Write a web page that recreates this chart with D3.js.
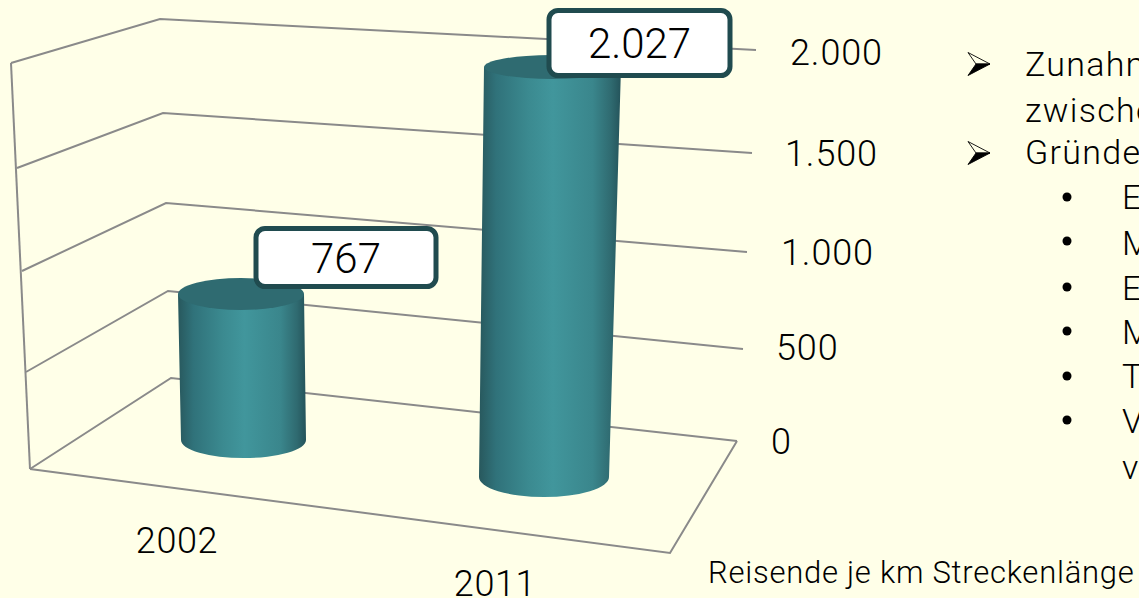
<!DOCTYPE html>
<html><head><meta charset="utf-8">
<script src="https://cdn.jsdelivr.net/npm/d3@7"></script>
<style>html,body{margin:0;padding:0;background:#FFFFE8;overflow:hidden}svg{display:block}text{font-family:Roboto,sans-serif;font-weight:300;fill:#000}</style>
</head><body><svg id="c" width="1139" height="598"></svg>
<script>
const categories = ["2002", "2011"];
const values = [767, 2027];
const valueTicks = [0, 500, 1000, 1500, 2000];
const captionText = "Reisende je km Streckenlänge";
const mainLines = ["Zunahme", "zwischen", "Gründe"];
const mainArrows = [true, false, true];
const subLines = ["E", "M", "E", "M", "T", "V", "v"];
const subDots = [true, true, true, true, true, true, false];

const W = 1139, H = 598;
const svg = d3.select("#c");
const de = d3.formatLocale({decimal: ",", thousands: ".", grouping: [3], currency: ["", "€"]});
const fmt = de.format(",d");

// perspective box: each wall edge maps value -> position
const piece = r => d3.scaleLinear().domain(valueTicks).range(r);
const frontX = piece([30, 26, 22, 17, 11]), frontY = piece([469, 372, 271, 168, 63]);
const backX = piece([171, 168, 166, 163, 160]), backY = piece([378, 291, 203, 113, 19]);
const rightX = piece([737, 743, 747, 752, 756]), rightY = piece([441, 349, 252, 153, 50]);
const labelX = piece([771, 776, 781, 785, 790]), labelY = piece([441, 347, 252, 153, 52]);

const GRID = "#8a8a8a";
const line = d3.line();
svg.append("rect").attr("width", W).attr("height", H).attr("fill", "#FFFFE8");

// floor and walls
const g = svg.append("g").attr("fill", "none").attr("stroke", GRID).attr("stroke-width", 2);
g.selectAll("path.grid").data(valueTicks).join("path").attr("class", "grid")
  .attr("d", v => line([[frontX(v), frontY(v)], [backX(v), backY(v)], [rightX(v), rightY(v)]]));
g.append("path").attr("d", line([[frontX(2000), frontY(2000)], [frontX(0), frontY(0)]]));
g.append("path").attr("d", line([[frontX(0), frontY(0)], [670, 553], [rightX(0), rightY(0)]]));

// cylinders
const defs = svg.append("defs");
const grad = defs.append("linearGradient").attr("id", "cyl");
[[0, "#28585d"], [0.12, "#30727a"], [0.35, "#3b8a90"], [0.52, "#41969c"], [0.8, "#3a868c"], [0.93, "#2f6a70"], [1, "#24535a"]]
  .forEach(([o, c]) => grad.append("stop").attr("offset", o).attr("stop-color", c));

const barCx0 = d3.scaleOrdinal(categories, [243.5, 544]);
const barCxT = d3.scaleOrdinal(categories, [241, 552.5]);
const barRx0 = d3.scaleOrdinal(categories, [62.5, 65]);
const barRxT = d3.scaleOrdinal(categories, [63, 68.5]);
const barRy0 = d3.scaleOrdinal(categories, [18, 20]);
const barRyT = d3.scaleOrdinal(categories, [16, 12]);
const barY = {
  "2002": d3.scaleLinear().domain([0, 767]).range([440, 294]),
  "2011": d3.scaleLinear().domain([0, 2027]).range([477, 67])
};
const data = categories.map((c, i) => ({c, v: values[i]}));
const bars = svg.append("g").selectAll("g").data(data).join("g");
bars.append("path").attr("fill", "url(#cyl)").attr("d", d => {
  const yb = barY[d.c](0), yt = barY[d.c](d.v);
  const cb = barCx0(d.c), ct = barCxT(d.c), rb = barRx0(d.c), rt = barRxT(d.c), ryb = barRy0(d.c);
  return `M${ct - rt},${yt}L${cb - rb},${yb}A${rb},${ryb} 0 0 0 ${cb + rb},${yb}L${ct + rt},${yt}Z`;
});
bars.append("ellipse").attr("fill", "#2f6b71")
  .attr("cx", d => barCxT(d.c)).attr("cy", d => barY[d.c](d.v))
  .attr("rx", d => barRxT(d.c)).attr("ry", d => barRyT(d.c));

// value call-outs
const boxX = d3.scaleOrdinal(categories, [256, 549]);
const boxY = d3.scaleOrdinal(categories, [228.5, 10.5]);
const boxW = d3.scaleOrdinal(categories, [180, 181]);
const boxH = d3.scaleOrdinal(categories, [58, 65]);
const call = svg.append("g").selectAll("g").data(data).join("g");
call.append("rect").attr("x", d => boxX(d.c)).attr("y", d => boxY(d.c))
  .attr("width", d => boxW(d.c)).attr("height", d => boxH(d.c)).attr("rx", 9)
  .attr("fill", "#fff").attr("stroke", "#204B4F").attr("stroke-width", 5);
call.append("text").attr("text-anchor", "middle").attr("font-size", 42)
  .attr("x", d => boxX(d.c) + boxW(d.c) / 2)
  .attr("y", d => boxY(d.c) + boxH(d.c) / 2 + 15)
  .text(d => fmt(d.v));

// axis labels
svg.append("g").selectAll("text").data(valueTicks).join("text")
  .attr("x", labelX).attr("y", v => labelY(v) + 13).attr("font-size", 36)
  .attr("letter-spacing", 0.9).text(v => fmt(v));
const catX = d3.scaleOrdinal(categories, [177, 495]);
const catY = d3.scaleOrdinal(categories, [553, 596]);
svg.append("g").selectAll("text").data(categories).join("text")
  .attr("text-anchor", "middle").attr("x", catX).attr("y", catY).attr("font-size", 36)
  .attr("letter-spacing", 0.6).text(d => d);

// side text
const mainY = d3.scaleOrdinal([0, 1, 2], [76, 122, 164]);
const arrowY = d3.scaleOrdinal([0, 1, 2], [64, 110, 153]);
const side = svg.append("g");
side.selectAll("text.m").data(mainLines).join("text").attr("class", "m")
  .attr("x", 1025).attr("y", (d, i) => mainY(i)).attr("font-size", 34).attr("letter-spacing", 1.3).text(d => d);
const arrows = side.selectAll("g.a").data(mainArrows.map((a, i) => ({a, i})).filter(d => d.a)).join("g").attr("class", "a")
  .attr("transform", d => `translate(968,${arrowY(d.i)})`);
arrows.append("path").attr("d", "M0,-11.5L22,0L8,0Z").attr("fill", "#FFFFE8").attr("stroke", "#000").attr("stroke-width", 0.9);
arrows.append("path").attr("d", "M0,11.5L22,0L8,0Z").attr("fill", "#000").attr("stroke", "#000").attr("stroke-width", 0.9);
const subY = d3.scaleOrdinal(d3.range(7), [209, 255, 300, 344, 388, 433, 479]);
side.selectAll("text.s").data(subLines).join("text").attr("class", "s")
  .attr("x", 1122).attr("y", (d, i) => subY(i)).attr("font-size", 34).text(d => d);
const dotY = d3.scaleOrdinal(d3.range(7), [197, 241, 287, 331, 376, 420, 0]);
side.selectAll("circle").data(subDots.map((a, i) => ({a, i})).filter(d => d.a)).join("circle")
  .attr("cx", 1067).attr("cy", d => dotY(d.i)).attr("r", 4.5).attr("fill", "#000");
svg.append("text").attr("x", 708).attr("y", 583).attr("font-size", 31).attr("letter-spacing", 0.75).text(captionText);
</script></body></html>
